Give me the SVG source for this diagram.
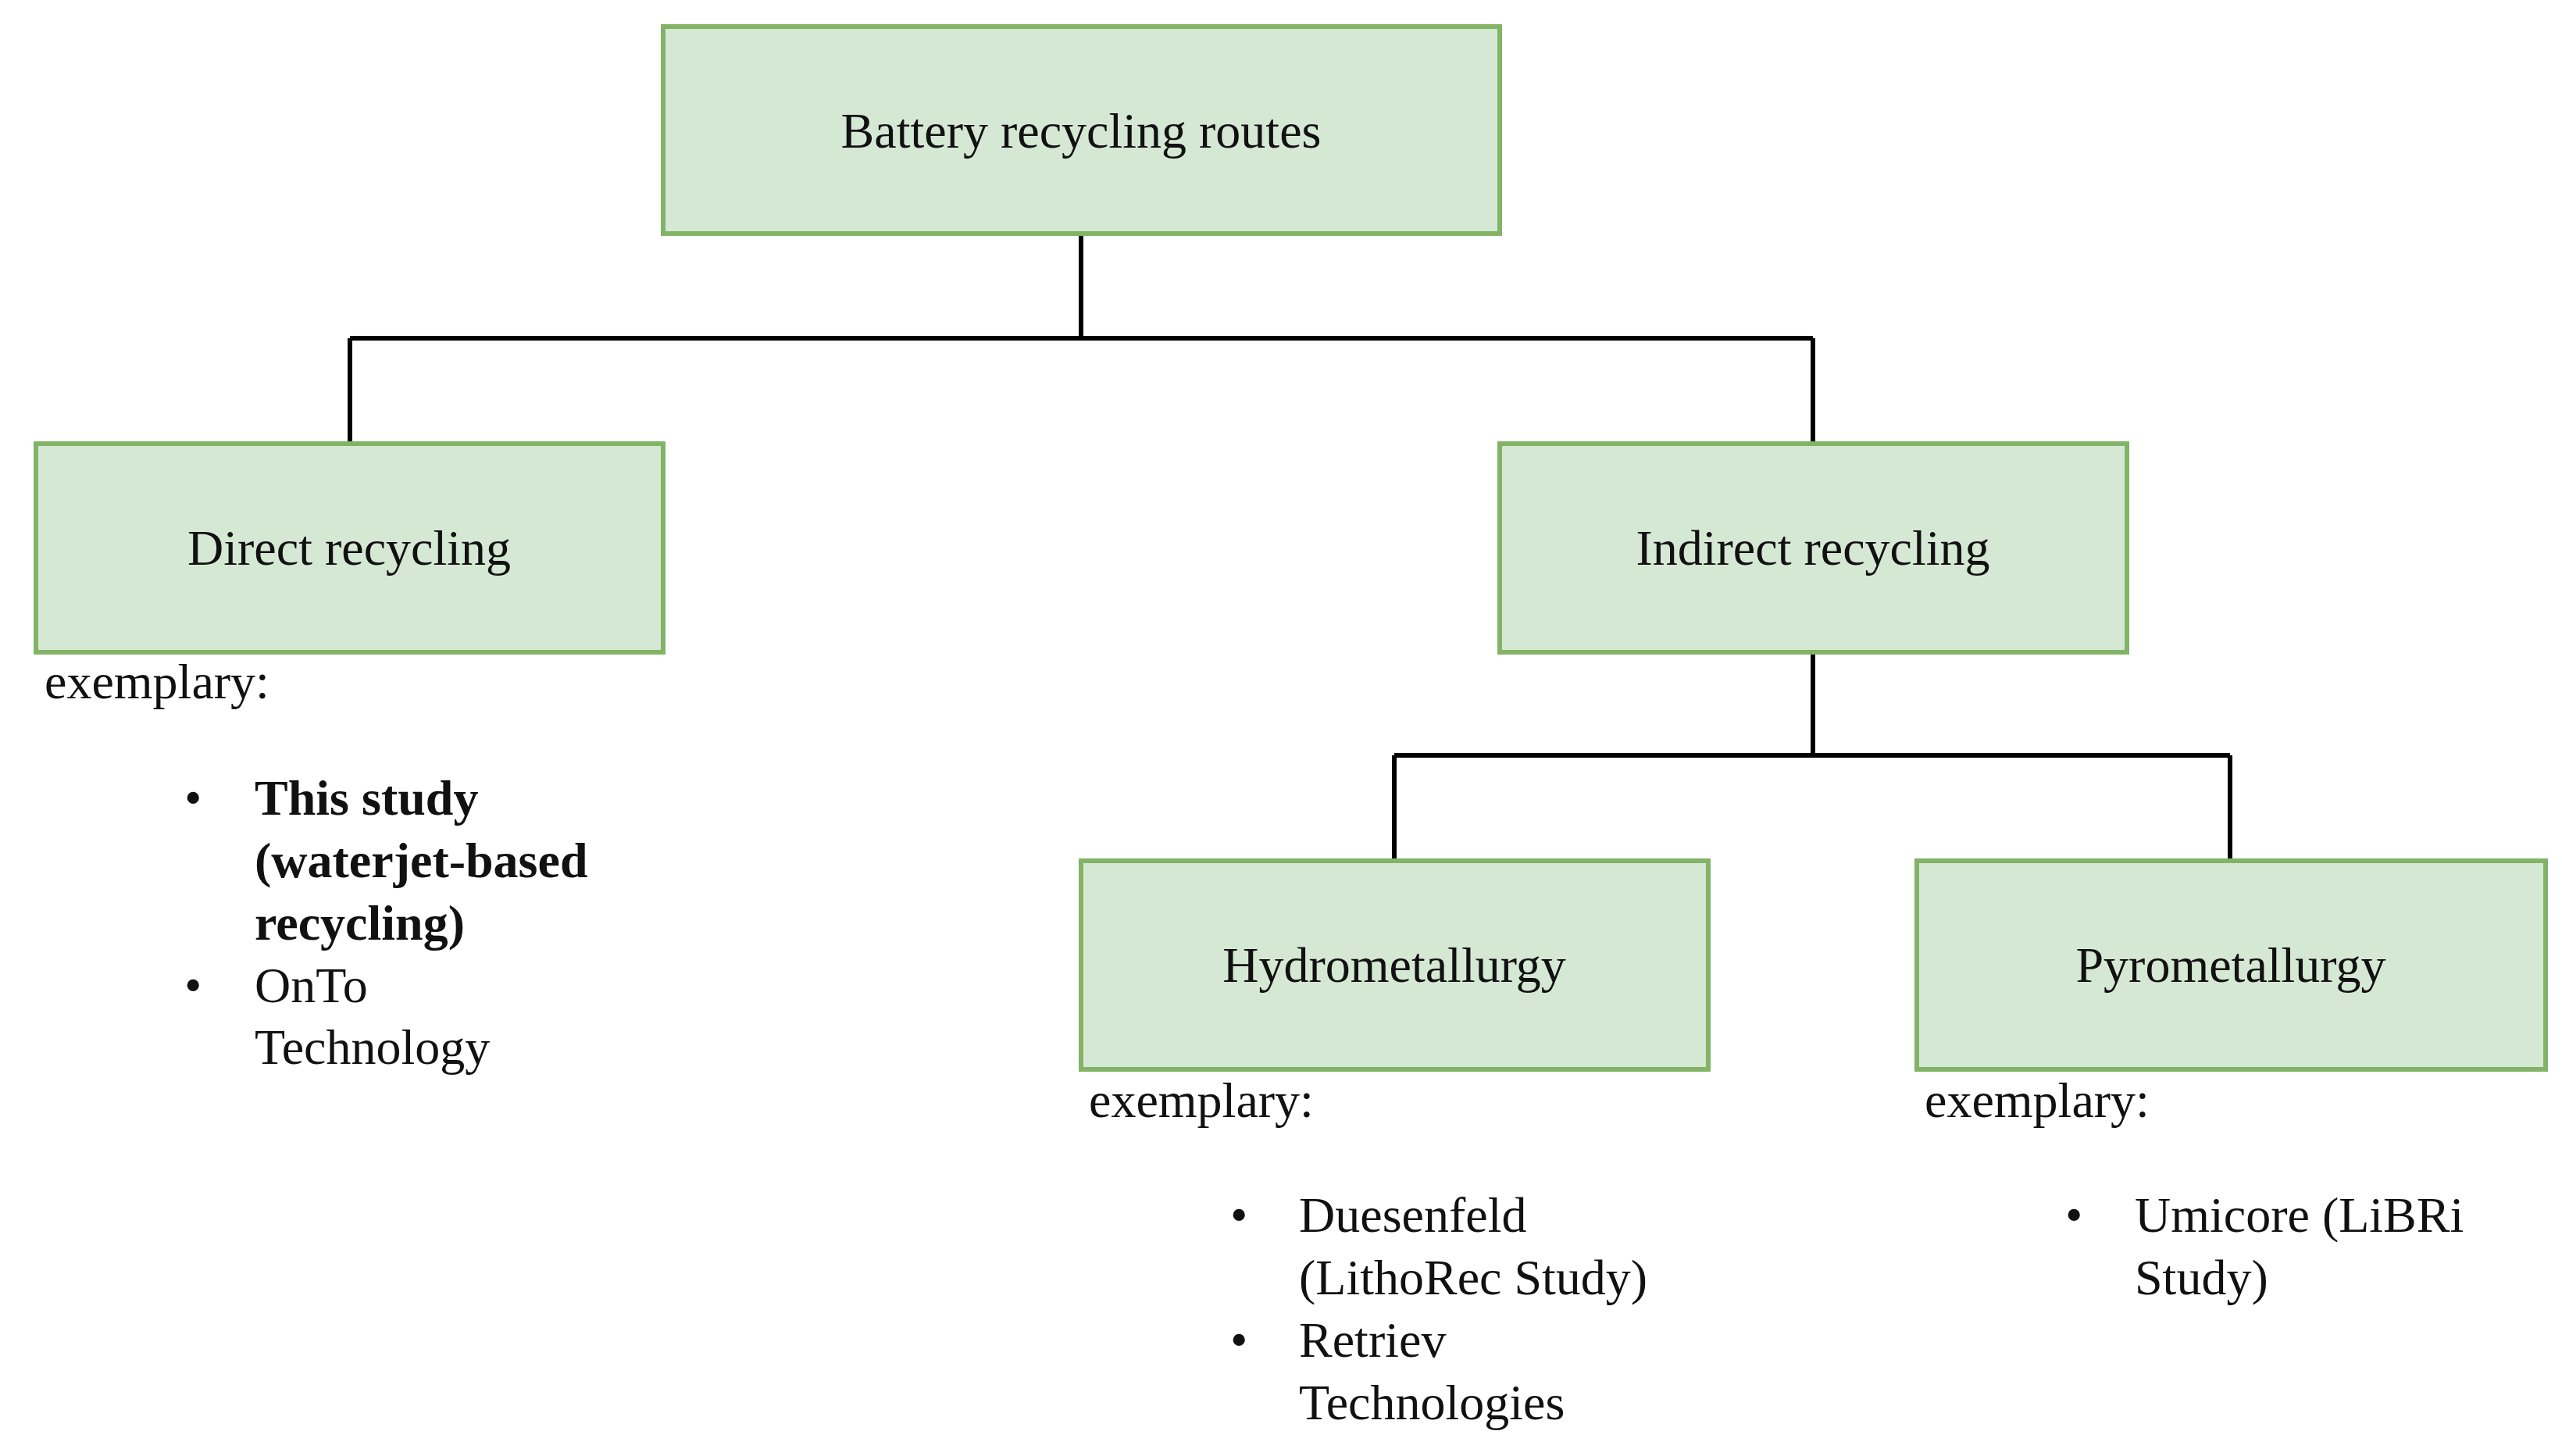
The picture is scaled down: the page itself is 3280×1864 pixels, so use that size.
<svg xmlns="http://www.w3.org/2000/svg" width="3280" height="1864" viewBox="0 0 3280 1864">
<style>
.box{fill:#d5e8d4;stroke:#82b366;stroke-width:6}
.t{font-family:"Liberation Serif","DejaVu Serif",serif;font-size:64px;fill:#111}
.c{text-anchor:middle}
.b{font-weight:bold}
.ln{fill:none;stroke:#000;stroke-width:6}
</style>
<rect width="3280" height="1864" fill="#fff"/>
<g id="connectors">
<path class="ln" d="M1384 299V433M448 433H2321M448 433V568M2321 433V568"/>
<path class="ln" d="M2321 835V967M1785 967H2855M1785 967V1102M2855 967V1102"/>
</g>
<g id="root"><rect class="box" x="849" y="34" width="1071" height="265"/><text class="t c" x="1384" y="189">Battery recycling routes</text></g>
<g id="direct"><rect class="box" x="46" y="568" width="803" height="267"/><text class="t c" x="447" y="723">Direct recycling</text></g>
<g id="indirect"><rect class="box" x="1920" y="568" width="803" height="267"/><text class="t c" x="2321" y="723">Indirect recycling</text></g>
<g id="hydro"><rect class="box" x="1384" y="1102" width="803" height="267"/><text class="t c" x="1785" y="1257">Hydrometallurgy</text></g>
<g id="pyro"><rect class="box" x="2454" y="1102" width="805" height="267"/><text class="t c" x="2856" y="1257">Pyrometallurgy</text></g>
<g id="direct-examples">
<text class="t" x="57" y="894">exemplary:</text>
<text class="t" x="236" y="1043">•</text><text class="t b" x="326" y="1043">This study</text>
<text class="t b" x="326" y="1123">(waterjet-based</text>
<text class="t b" x="326" y="1203">recycling)</text>
<text class="t" x="236" y="1283">•</text><text class="t" x="326" y="1283">OnTo</text>
<text class="t" x="326" y="1362">Technology</text>
</g>
<g id="hydro-examples">
<text class="t" x="1394" y="1430">exemplary:</text>
<text class="t" x="1575" y="1577">•</text><text class="t" x="1663" y="1577">Duesenfeld</text>
<text class="t" x="1663" y="1657">(LithoRec Study)</text>
<text class="t" x="1575" y="1737">•</text><text class="t" x="1663" y="1737">Retriev</text>
<text class="t" x="1663" y="1817">Technologies</text>
</g>
<g id="pyro-examples">
<text class="t" x="2464" y="1430">exemplary:</text>
<text class="t" x="2644" y="1577">•</text><text class="t" x="2733" y="1577">Umicore (LiBRi</text>
<text class="t" x="2733" y="1657">Study)</text>
</g>
</svg>
